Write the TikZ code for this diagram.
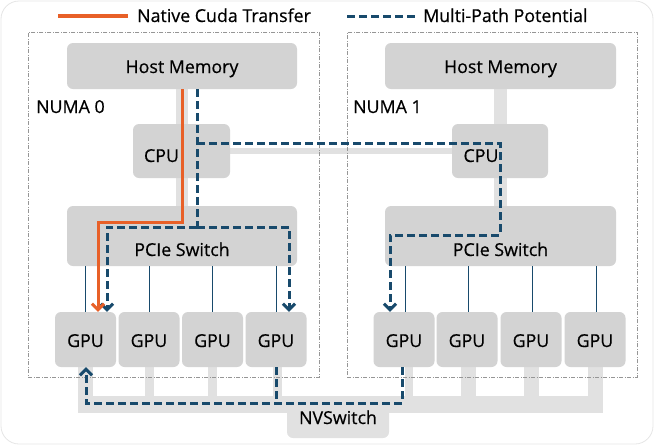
\documentclass[tikz,border=0pt]{standalone}
\usepackage{fontspec}
\setmainfont{Open Sans}[UprightFeatures={FakeBold=0.5}]
\usetikzlibrary{arrows.meta}
\definecolor{boxgray}{RGB}{211,211,211}
\definecolor{linkgray}{RGB}{225,225,225}
\definecolor{dblue}{RGB}{24,74,108}
\definecolor{orng}{RGB}{232,96,40}
\definecolor{framegray}{RGB}{150,150,150}
\pgfdeclarelayer{bg}
\pgfsetlayers{bg,main}
\begin{document}
\begin{tikzpicture}[x=1pt,y=-1pt,
 box/.style={draw=none, fill=boxgray, rounded corners=6pt, inner sep=0pt},
 nvbox/.style={draw=none, fill=linkgray, rounded corners=6pt, inner sep=0pt},
 lbl/.style={font=\fontsize{17.8}{20}\selectfont, inner sep=0pt, text=black},
 numa/.style={draw=framegray, line width=0.7pt, dash pattern=on 4pt off 1.5pt on 1pt off 1.5pt, inner sep=0pt},
 hlink/.style={draw=linkgray},
 pline/.style={draw=dblue, line width=1pt},
 dpath/.style={draw=dblue, line width=3pt, dash pattern=on 8pt off 4pt},
 opath/.style={draw=orng, line width=3pt},
 tip/.style={-{Straight Barb[length=6pt,width=12pt]}},
]
\useasboundingbox (0,0) rectangle (654,445);
\draw[black!10, line width=0.8pt, rounded corners=18pt] (1,1) rectangle (653,444);

% legend
\coordinate (lo1) at (58,16);
\coordinate (lo2) at (128,16);
\draw[opath, line width=3.3pt] (lo1) -- (lo2);
\node[lbl, anchor=base west] (leg1) at (137,22) {Native Cuda Transfer};
\coordinate (ld1) at (347,16);
\coordinate (ld2) at (415,16);
\draw[dpath] (ld1) -- (ld2);
\node[lbl, anchor=base west] (leg2) at (423,22) {Multi-Path Potential};

% NUMA frames
\node[numa, anchor=north west, minimum width=291pt, minimum height=345pt] (numa0) at (28,32) {};
\node[numa, anchor=north west, minimum width=290pt, minimum height=345pt] (numa1) at (347,32) {};
\node[lbl, anchor=base west] (numa0t) at (36,113) {NUMA 0};
\node[lbl, anchor=base west] (numa1t) at (353,113) {NUMA 1};

% boxes
\node[box, minimum width=230pt, minimum height=46pt] (hm0) at (182,66) {};
\node[box, minimum width=231pt, minimum height=46pt] (hm1) at (500.5,66) {};
\node[lbl, anchor=base] (hm0t) at (182,73) {Host Memory};
\node[lbl, anchor=base] (hm1t) at (500.5,73) {Host Memory};

\node[box, minimum width=97pt, minimum height=54pt] (cpu0) at (181.5,151) {};
\node[box, minimum width=96pt, minimum height=54pt] (cpu1) at (500,151) {};
\node[lbl, anchor=base] (cpu0t) at (161.5,162) {CPU};
\node[lbl, anchor=base] (cpu1t) at (481,162) {CPU};

\node[box, minimum width=230pt, minimum height=60pt] (pcie0) at (182,236) {};
\node[box, minimum width=231pt, minimum height=60pt] (pcie1) at (500.5,236) {};
\node[lbl, anchor=base] (pcie0t) at (182,256) {PCIe Switch};
\node[lbl, anchor=base] (pcie1t) at (500.5,256) {PCIe Switch};

\foreach \n/\x in {g1/85.5,g2/149,g3/212.5,g4/276,h1/404,h2/467,h3/531,h4/595}{
  \node[box, minimum width=61pt, minimum height=55pt] (\n) at (\x,339.5) {};
  \node[lbl, anchor=base] (\n t) at (\x,347) {GPU};
}

\node[nvbox, minimum width=102pt, minimum height=42pt] (nvs) at (338,417) {};
\node[lbl, anchor=base] (nvst) at (338,424) {NVSwitch};

% background links
\begin{pgfonlayer}{bg}
\draw[hlink, line width=12pt] (hm0) -- (pcie0);
\draw[hlink, line width=13pt] (hm1) -- (pcie1);
\draw[hlink, line width=6pt] (cpu0) -- (cpu1);
\coordinate (nvl) at (78,404.5);
\coordinate (nvr) at (603,404.5);
\draw[hlink, line width=17pt] (nvl) -- (nvr);
\fill[linkgray] ([xshift=-7.5pt]g1.south) rectangle ([xshift=7.5pt]g1.south |- nvl);
\fill[linkgray] ([xshift=-4pt]g2.south) rectangle ([xshift=5pt]g2.south |- nvl);
\fill[linkgray] ([xshift=-4.5pt]g3.south) rectangle ([xshift=4.5pt]g3.south |- nvl);
\fill[linkgray] ([xshift=-3pt]g4.south) rectangle ([xshift=6pt]g4.south |- nvl);
\fill[linkgray] ([xshift=1pt]h1.south) rectangle ([xshift=9pt]h1.south |- nvl);
\fill[linkgray] ([xshift=-6pt]h2.south) rectangle ([xshift=9pt]h2.south |- nvl);
\fill[linkgray] ([xshift=-7pt]h3.south) rectangle ([xshift=8pt]h3.south |- nvl);
\fill[linkgray] ([xshift=-7pt]h4.south) rectangle ([xshift=8pt]h4.south |- nvl);
\end{pgfonlayer}

% PCIe to GPU lines
\foreach \n in {g1,g2,g3,g4}{\draw[pline] (\n.north |- pcie0.south) -- (\n.north);}
\foreach \n in {h1,h2,h3,h4}{\draw[pline] ([xshift=1pt]\n.north |- pcie1.south) -- ([xshift=1pt]\n.north);}

% multi-path dashed routes
\coordinate (j1) at (197,227);
\coordinate (c1) at (107,227);
\coordinate (c2) at (289,227);
\draw[dpath] ([xshift=15pt]hm0.south) -- (j1);
\draw[dpath, tip] (j1) -- (c2) -- (c2 |- g4.north);
\draw[dpath, tip] (j1) -- (c1) -- (c1 |- g1.north);

\coordinate (k1) at (197,143);
\coordinate (k2) at (500,143);
\coordinate (k3) at (500,235);
\coordinate (k4) at (390,235);
\draw[dpath, tip] (k1) -- (k2) -- (k3) -- (k4) -- (k4 |- h1.north);

\coordinate (m1) at (402,403);
\coordinate (m2) at (86,403);
\draw[dpath, tip] ([xshift=-2pt]h1.south) -- (m1) -- (m2) -- (m2 |- g1.south);
\draw[dpath] (g4.south) -- (g4.south |- m1);

% native cuda transfer
\coordinate (o1) at (182,222);
\coordinate (o2) at (98,222);
\draw[opath, tip] (hm0.south) -- (o1) -- (o2) -- (o2 |- g1.north);
\end{tikzpicture}
\end{document}
